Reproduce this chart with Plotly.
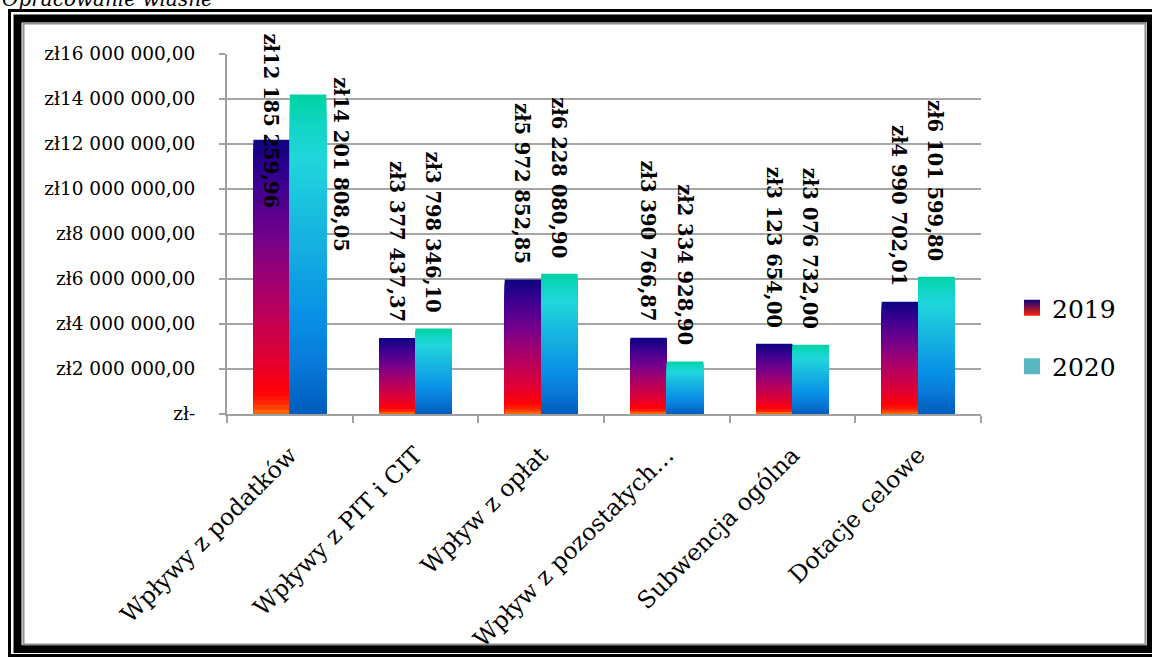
import plotly.graph_objects as go
from plotly.colors import sample_colorscale

# ---------------- data ----------------
categories = ["Wpływy z podatków", "Wpływy z PIT i CIT", "Wpływ z opłat",
              "Wpływ z pozostałych…", "Subwencja ogólna", "Dotacje celowe"]
values_2019 = [12185259.96, 3377437.37, 5972852.85, 3390766.87, 3123654.00, 4990702.01]
values_2020 = [14201808.05, 3798346.10, 6228080.90, 2334928.90, 3076732.00, 6101599.80]
labels_2019 = ["zł12 185 259,96", "zł3 377 437,37", "zł5 972 852,85",
               "zł3 390 766,87", "zł3 123 654,00", "zł4 990 702,01"]
labels_2020 = ["zł14 201 808,05", "zł3 798 346,10", "zł6 228 080,90",
               "zł2 334 928,90", "zł3 076 732,00", "zł6 101 599,80"]
series_names = ["2019", "2020"]
y_tickvals = [0, 2e6, 4e6, 6e6, 8e6, 10e6, 12e6, 14e6, 16e6]
y_ticktext = ["zł-", "zł2 000 000,00", "zł4 000 000,00", "zł6 000 000,00",
              "zł8 000 000,00", "zł10 000 000,00", "zł12 000 000,00",
              "zł14 000 000,00", "zł16 000 000,00"]

# ---------------- style ----------------
W, H = 1152, 657
L, R, T, B = 227, 171, 54, 243
PW, PH = W - L - R, H - T - B

def px_x(p):
    return (p - L) / PW

def px_y(p):
    return (H - B - p) / PH

scale_2019 = [[0.0, "#ff7400"], [0.035, "#ff2a00"], [0.08, "#ff0008"], [0.22, "#dc0038"],
              [0.45, "#a8006a"], [0.65, "#72008c"], [0.85, "#3a0090"], [1.0, "#0c0480"]]
scale_2020 = [[0.0, "#005cbc"], [0.15, "#0878d8"], [0.3, "#0890e6"], [0.55, "#16b2e0"],
              [0.8, "#20d6dc"], [0.9, "#12d6c6"], [1.0, "#00d2a2"]]
legend_2020_color = "#5ab6c0"

BAR_W = 0.29
offsets = [-BAR_W, 0.0]
N_STEPS = 60

SERIF = "DejaVu Serif"

fig = go.Figure()

# gradient bars: full bar first, then progressively shorter overlays
for s, (vals, cs) in enumerate([(values_2019, scale_2019), (values_2020, scale_2020)]):
    for k in range(N_STEPS):
        frac = 1 - k / N_STEPS
        col = sample_colorscale(cs, [frac - 0.5 / N_STEPS])[0]
        fig.add_trace(go.Bar(
            x=categories, y=[v * frac for v in vals],
            width=BAR_W, offset=offsets[s],
            marker=dict(color=col, line=dict(width=0)),
            showlegend=False,
            hoverinfo="skip" if k else "x+y",
            name=series_names[s],
        ))

# legend entries
fig.add_trace(go.Scatter(
    x=[None], y=[None], mode="markers", name="2019", legendgroup="a",
    marker=dict(symbol="square", size=20, color="#0c0480",
                gradient=dict(type="vertical", color="#ff2000"))))
fig.add_trace(go.Scatter(
    x=[None], y=[None], mode="markers", name="2020", legendgroup="b",
    marker=dict(symbol="square", size=20, color=legend_2020_color)))

# data labels (rotated, above bars)
label_yshift_2019 = [-71, 14, 14, 14, 14, 14]
label_yshift_2020 = [-160, 14, 14, 14, 14, 14]
label_xshift_2019 = [-19, -19, -19, -19, -19, -19]
label_xshift_2020 = [50, 17, 17, 17, 17, 17]
for vals, labs, ys, xs in [(values_2019, labels_2019, label_yshift_2019, label_xshift_2019),
                           (values_2020, labels_2020, label_yshift_2020, label_xshift_2020)]:
    for c, v, t, dy, dx in zip(categories, vals, labs, ys, xs):
        fig.add_annotation(x=c, y=v, xref="x", yref="y", text=t, showarrow=False,
                           textangle=90, xanchor="center", yanchor="bottom",
                           xshift=dx, yshift=dy,
                           font=dict(family=SERIF, size=19.5, color="black", weight="bold"))

# source note (cut off at top)
fig.add_annotation(x=px_x(0), y=px_y(13), xref="paper", yref="paper",
                   text="<i>Opracowanie własne</i>", showarrow=False,
                   xanchor="left", yanchor="bottom",
                   font=dict(family=SERIF, size=20, color="black"))

# frame
shapes = [
    dict(type="rect", xref="paper", yref="paper",
         x0=px_x(9.5), x1=px_x(1165), y0=px_y(10.5), y1=px_y(655.5),
         line=dict(color="black", width=3)),
    dict(type="rect", xref="paper", yref="paper",
         x0=px_x(17.5), x1=px_x(1151), y0=px_y(18.5), y1=px_y(649),
         line=dict(color="black", width=8)),
    dict(type="rect", xref="paper", yref="paper",
         x0=px_x(23.5), x1=px_x(1145.5), y0=px_y(23.5), y1=px_y(644.5),
         line=dict(color="#8c8c8c", width=2)),
]

fig.update_layout(
    width=W, height=H,
    margin=dict(l=L, r=R, t=T, b=B, autoexpand=False),
    paper_bgcolor="white", plot_bgcolor="white",
    barmode="overlay",
    shapes=shapes,
    showlegend=True,
    legend=dict(x=px_x(1012), y=px_y(285), xanchor="left", yanchor="top",
                font=dict(family=SERIF, size=25, color="black"),
                traceorder="grouped", tracegroupgap=23, itemsizing="trace",
                bgcolor="rgba(0,0,0,0)"),
    xaxis=dict(type="category", tickangle=-45, showline=True, linecolor="#a0a0a0",
               linewidth=2, ticks="outside", tickson="boundaries", ticklen=7,
               tickcolor="#a0a0a0", tickwidth=2, showgrid=False,
               ticklabelstandoff=16,
               tickfont=dict(family=SERIF, size=23.5, color="black")),
    yaxis=dict(range=[0, 16e6], tickvals=y_tickvals, ticktext=y_ticktext,
               showgrid=True, gridcolor="#a6a6a6", gridwidth=2,
               showline=True, linecolor="#a0a0a0", linewidth=2,
               ticks="outside", ticklen=6, tickcolor="#a0a0a0", tickwidth=2,
               ticklabelstandoff=20, zeroline=False,
               tickfont=dict(family=SERIF, size=18.5, color="black")),
)

fig.write_html("out.html", config={"displayModeBar": False},
               post_script="document.body.style.margin='0';document.body.style.overflow='hidden';")
